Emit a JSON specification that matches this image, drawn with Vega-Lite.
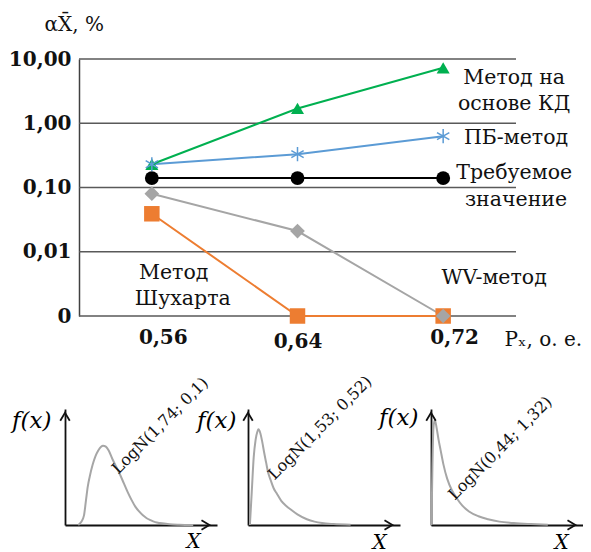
{
  "$schema": "https://vega.github.io/schema/vega-lite/v6.json",
  "padding": {"left": 8, "top": 14, "right": 0, "bottom": 0},
  "config": {"font": "DejaVu Serif", "view": {"stroke": null}, "text": {"font": "DejaVu Serif"}},
  "datasets": {
    "main": [
      {"p": 0.56, "v": 0.039, "s": "Метод Шухарта"},
      {"p": 0.64, "v": 0.001, "s": "Метод Шухарта"},
      {"p": 0.72, "v": 0.001, "s": "Метод Шухарта"},
      {"p": 0.56, "v": 0.08, "s": "WV-метод"},
      {"p": 0.64, "v": 0.021, "s": "WV-метод"},
      {"p": 0.72, "v": 0.001, "s": "WV-метод"},
      {"p": 0.56, "v": 0.14, "s": "Требуемое значение"},
      {"p": 0.64, "v": 0.14, "s": "Требуемое значение"},
      {"p": 0.72, "v": 0.14, "s": "Требуемое значение"},
      {"p": 0.56, "v": 0.23, "s": "ПБ-метод"},
      {"p": 0.64, "v": 0.33, "s": "ПБ-метод"},
      {"p": 0.72, "v": 0.63, "s": "ПБ-метод"},
      {"p": 0.56, "v": 0.23, "s": "Метод на основе КД"},
      {"p": 0.64, "v": 1.7, "s": "Метод на основе КД"},
      {"p": 0.72, "v": 7.3, "s": "Метод на основе КД"}
    ],
    "gridlines": [
      {"g": 0.001, "a": 0.52, "b": 0.76},
      {"g": 0.01, "a": 0.52, "b": 0.76},
      {"g": 0.1, "a": 0.52, "b": 0.76},
      {"g": 1, "a": 0.52, "b": 0.76},
      {"g": 10, "a": 0.52, "b": 0.76}
    ],
    "lab": [
      {"p": 0.759, "v": 5.06, "t": "Метод на"},
      {"p": 0.759, "v": 2.0, "t": "основе КД"},
      {"p": 0.760, "v": 0.59, "t": "ПБ-метод"},
      {"p": 0.759, "v": 0.168, "t": "Требуемое"},
      {"p": 0.760, "v": 0.0638, "t": "значение"},
      {"p": 0.748, "v": 0.0039, "t": "WV-метод"},
      {"p": 0.572, "v": 0.00468, "t": "Метод"},
      {"p": 0.577, "v": 0.00184, "t": "Шухарта"}
    ],
    "c1": [
      {"x": 14, "y": 0}, {"x": 17, "y": 3}, {"x": 20, "y": 10}, {"x": 22, "y": 25}, {"x": 24, "y": 40},
      {"x": 26, "y": 50}, {"x": 29, "y": 62}, {"x": 32, "y": 71}, {"x": 35, "y": 77}, {"x": 38, "y": 81},
      {"x": 40, "y": 82}, {"x": 43, "y": 81}, {"x": 46, "y": 77}, {"x": 50, "y": 68}, {"x": 54, "y": 60},
      {"x": 58, "y": 52}, {"x": 62, "y": 43}, {"x": 66, "y": 34}, {"x": 70, "y": 26}, {"x": 74, "y": 19},
      {"x": 78, "y": 14}, {"x": 82, "y": 10}, {"x": 86, "y": 7}, {"x": 90, "y": 5}, {"x": 95, "y": 3},
      {"x": 100, "y": 2}, {"x": 110, "y": 0.8}, {"x": 120, "y": 0.3}, {"x": 135, "y": 0}
    ],
    "c2": [
      {"x": 2, "y": 0}, {"x": 4, "y": 35}, {"x": 6, "y": 70}, {"x": 8, "y": 88}, {"x": 10, "y": 97},
      {"x": 11, "y": 99}, {"x": 13, "y": 95}, {"x": 15, "y": 86}, {"x": 17, "y": 75}, {"x": 19, "y": 65},
      {"x": 21, "y": 55}, {"x": 24, "y": 46}, {"x": 27, "y": 38}, {"x": 30, "y": 33}, {"x": 35, "y": 25},
      {"x": 40, "y": 20}, {"x": 45, "y": 16}, {"x": 52, "y": 11}, {"x": 62, "y": 6}, {"x": 70, "y": 3.5},
      {"x": 78, "y": 2}, {"x": 90, "y": 1}, {"x": 108, "y": 0.3}
    ],
    "c3": [
      {"x": 0.5, "y": 0}, {"x": 1.5, "y": 60}, {"x": 2.5, "y": 100}, {"x": 4, "y": 109}, {"x": 6, "y": 100},
      {"x": 8, "y": 88}, {"x": 10, "y": 78}, {"x": 13, "y": 63}, {"x": 17, "y": 48}, {"x": 22, "y": 36},
      {"x": 27, "y": 28}, {"x": 33, "y": 20}, {"x": 40, "y": 14}, {"x": 50, "y": 9}, {"x": 60, "y": 6},
      {"x": 72, "y": 3.5}, {"x": 87, "y": 2}, {"x": 105, "y": 1}, {"x": 123, "y": 0.3}
    ]
  },
  "concat": [
    {
      "width": 451,
      "height": 257,
      "layer": [
        {
          "data": {"name": "gridlines"},
          "mark": {"type": "rule", "color": "#595959", "strokeWidth": 1.5},
          "encoding": {
            "y": {"field": "g", "type": "quantitative",
              "scale": {"type": "log", "domain": [0.001, 10], "nice": false},
              "axis": {
                "values": [0.001, 0.01, 0.1, 1, 10],
                "offset": -14,
                "labelExpr": "datum.value < 0.005 ? '0   ' : replace(format(datum.value, '.2f'), '.', ',')",
                "grid": false,
                "domainColor": "#404040", "domainWidth": 1.5, "ticks": false,
                "labelFontWeight": "bold", "labelFontSize": 20, "labelPadding": 8, "labelColor": "#111",
                "title": "αX̄, %", "titleAngle": 0, "titleAlign": "left", "titleX": -35, "titleY": -29,
                "titleBaseline": "alphabetic", "titleFontWeight": "normal", "titleFontSize": 20, "titleColor": "#111"
              }
            },
            "x": {"field": "a", "type": "quantitative",
              "scale": {"domain": [0.51231, 0.76], "nice": false, "zero": false},
              "axis": {
                "values": [0.56, 0.64, 0.72],
                "labelExpr": "replace(format(datum.value, '.2f'), '.', ',')",
                "grid": false, "domain": false, "ticks": false,
                "labelOffset": {"condition": {"test": "datum.value == 0.64", "value": 0}, "value": 11},
                "labelPadding": {"condition": {"test": "datum.value == 0.64", "value": 15}, "value": 11},
                "labelFontWeight": "bold", "labelFontSize": 20, "labelColor": "#111",
                "title": "Pₓ, о. е.", "titleX": 439, "titleY": 29, "titleAlign": "left",
                "titleBaseline": "alphabetic", "titleFontWeight": "normal", "titleFontSize": 20, "titleColor": "#111"
              }
            },
            "x2": {"field": "b"}
          }
        },
        {
          "data": {"name": "main"},
          "mark": {"type": "line", "strokeWidth": 2},
          "encoding": {
            "x": {"field": "p", "type": "quantitative"},
            "y": {"field": "v", "type": "quantitative"},
            "color": {
              "field": "s", "type": "nominal", "legend": null,
              "scale": {
                "domain": ["Метод Шухарта", "WV-метод", "Требуемое значение", "ПБ-метод", "Метод на основе КД"],
                "range": ["#ed7d31", "#a5a5a5", "#000000", "#5b9bd5", "#00b050"]
              }
            }
          }
        },
        {
          "data": {"name": "main"},
          "transform": [{"filter": "datum.s != 'ПБ-метод'"}],
          "mark": {"type": "point", "filled": true, "opacity": 1},
          "encoding": {
            "x": {"field": "p", "type": "quantitative"},
            "y": {"field": "v", "type": "quantitative"},
            "color": {
              "field": "s", "type": "nominal", "legend": null,
              "scale": {
                "domain": ["Метод Шухарта", "WV-метод", "Требуемое значение", "ПБ-метод", "Метод на основе КД"],
                "range": ["#ed7d31", "#a5a5a5", "#000000", "#5b9bd5", "#00b050"]
              }
            },
            "shape": {
              "field": "s", "type": "nominal", "legend": null,
              "scale": {
                "domain": ["Метод Шухарта", "WV-метод", "Требуемое значение", "Метод на основе КД"],
                "range": ["square", "diamond", "circle", "triangle-up"]
              }
            },
            "size": {
              "field": "s", "type": "nominal", "legend": null,
              "scale": {
                "domain": ["Метод Шухарта", "WV-метод", "Требуемое значение", "Метод на основе КД"],
                "range": [240, 170, 225, 260]
              }
            }
          }
        },
        {
          "data": {"name": "main"},
          "transform": [{"filter": "datum.s == 'ПБ-метод'"}],
          "mark": {
            "type": "point", "filled": false, "opacity": 1, "color": "#5b9bd5", "strokeWidth": 1.5,
            "shape": "M0,-1L0,1M-0.87,-0.5L0.87,0.5M-0.87,0.5L0.87,-0.5", "size": 200
          },
          "encoding": {
            "x": {"field": "p", "type": "quantitative"},
            "y": {"field": "v", "type": "quantitative"}
          }
        },
        {
          "data": {"name": "lab"},
          "mark": {"type": "text", "font": "DejaVu Serif", "fontSize": 20.5, "align": "center", "baseline": "middle", "color": "#111"},
          "encoding": {
            "x": {"field": "p", "type": "quantitative"},
            "y": {"field": "v", "type": "quantitative"},
            "text": {"field": "t"}
          }
        }
      ]
    },
    {
      "hconcat": [
        {
          "width": 152, "height": 116,
          "layer": [
            {
              "data": {"name": "c1"},
              "mark": {"type": "line", "color": "#a6a6a6", "strokeWidth": 2, "interpolate": "monotone"},
              "encoding": {
                "x": {"field": "x", "type": "quantitative", "scale": {"domain": [0, 152]},
                  "axis": {"domainColor": "#111", "domainWidth": 1.8, "ticks": false, "labels": false, "grid": false,
                    "title": "X", "titleX": 128, "titleY": 22, "titleAlign": "center", "titleBaseline": "alphabetic",
                    "titleFontStyle": "italic", "titleFontWeight": "normal", "titleFontSize": 20}},
                "y": {"field": "y", "type": "quantitative", "scale": {"domain": [0, 116]},
                  "axis": {"domainColor": "#111", "domainWidth": 1.8, "ticks": false, "labels": false, "grid": false,
                    "title": "f(x)", "titleAngle": 0, "titleX": -14, "titleY": 18, "titleAlign": "right", "titleBaseline": "alphabetic",
                    "titleFontStyle": "italic", "titleFontWeight": "normal", "titleFontSize": 23}}
              }
            },
            {
              "data": {"values": [{"x": 0, "y": 116}]},
              "mark": {"type": "point", "filled": false, "color": "#111", "strokeWidth": 1.8, "size": 250, "opacity": 1, "shape": "M-0.6,1L0,0L0.6,1"},
              "encoding": {"x": {"field": "x", "type": "quantitative"}, "y": {"field": "y", "type": "quantitative"}}
            },
            {
              "data": {"values": [{"x": 152, "y": 0}]},
              "mark": {"type": "point", "filled": false, "color": "#111", "strokeWidth": 1.8, "size": 250, "opacity": 1, "shape": "M-1,-0.6L0,0L-1,0.6"},
              "encoding": {"x": {"field": "x", "type": "quantitative"}, "y": {"field": "y", "type": "quantitative"}}
            },
            {
              "data": {"values": [{"x": 56, "y": 52, "t": "LogN(1,74; 0,1)"}]},
              "mark": {"type": "text", "font": "DejaVu Serif", "angle": -45, "align": "left", "baseline": "alphabetic", "fontSize": 16, "color": "#111"},
              "encoding": {
                "x": {"field": "x", "type": "quantitative"},
                "y": {"field": "y", "type": "quantitative"},
                "text": {"field": "t"}
              }
            }
          ]
        },
        {
          "width": 152, "height": 116,
          "layer": [
            {
              "data": {"name": "c2"},
              "mark": {"type": "line", "color": "#a6a6a6", "strokeWidth": 2, "interpolate": "monotone"},
              "encoding": {
                "x": {"field": "x", "type": "quantitative", "scale": {"domain": [0, 152]},
                  "axis": {"domainColor": "#111", "domainWidth": 1.8, "ticks": false, "labels": false, "grid": false,
                    "title": "X", "titleX": 131, "titleY": 23, "titleAlign": "center", "titleBaseline": "alphabetic",
                    "titleFontStyle": "italic", "titleFontWeight": "normal", "titleFontSize": 20}},
                "y": {"field": "y", "type": "quantitative", "scale": {"domain": [0, 116]},
                  "axis": {"domainColor": "#111", "domainWidth": 1.8, "ticks": false, "labels": false, "grid": false,
                    "title": "f(x)", "titleAngle": 0, "titleX": -12, "titleY": 18, "titleAlign": "right", "titleBaseline": "alphabetic",
                    "titleFontStyle": "italic", "titleFontWeight": "normal", "titleFontSize": 23}}
              }
            },
            {
              "data": {"values": [{"x": 0, "y": 116}]},
              "mark": {"type": "point", "filled": false, "color": "#111", "strokeWidth": 1.8, "size": 250, "opacity": 1, "shape": "M-0.6,1L0,0L0.6,1"},
              "encoding": {"x": {"field": "x", "type": "quantitative"}, "y": {"field": "y", "type": "quantitative"}}
            },
            {
              "data": {"values": [{"x": 152, "y": 0}]},
              "mark": {"type": "point", "filled": false, "color": "#111", "strokeWidth": 1.8, "size": 250, "opacity": 1, "shape": "M-1,-0.6L0,0L-1,0.6"},
              "encoding": {"x": {"field": "x", "type": "quantitative"}, "y": {"field": "y", "type": "quantitative"}}
            },
            {
              "data": {"values": [{"x": 28, "y": 46, "t": "LogN(1,53; 0,52)"}]},
              "mark": {"type": "text", "font": "DejaVu Serif", "angle": -45, "align": "left", "baseline": "alphabetic", "fontSize": 16, "color": "#111"},
              "encoding": {
                "x": {"field": "x", "type": "quantitative"},
                "y": {"field": "y", "type": "quantitative"},
                "text": {"field": "t"}
              }
            }
          ]
        },
        {
          "width": 152, "height": 116,
          "layer": [
            {
              "data": {"name": "c3"},
              "mark": {"type": "line", "color": "#a6a6a6", "strokeWidth": 2, "interpolate": "monotone"},
              "encoding": {
                "x": {"field": "x", "type": "quantitative", "scale": {"domain": [0, 152]},
                  "axis": {"domainColor": "#111", "domainWidth": 1.8, "ticks": false, "labels": false, "grid": false,
                    "title": "X", "titleX": 130, "titleY": 23, "titleAlign": "center", "titleBaseline": "alphabetic",
                    "titleFontStyle": "italic", "titleFontWeight": "normal", "titleFontSize": 20}},
                "y": {"field": "y", "type": "quantitative", "scale": {"domain": [0, 116]},
                  "axis": {"domainColor": "#111", "domainWidth": 1.8, "ticks": false, "labels": false, "grid": false,
                    "title": "f(x)", "titleAngle": 0, "titleX": -13, "titleY": 15, "titleAlign": "right", "titleBaseline": "alphabetic",
                    "titleFontStyle": "italic", "titleFontWeight": "normal", "titleFontSize": 23}}
              }
            },
            {
              "data": {"values": [{"x": 0, "y": 116}]},
              "mark": {"type": "point", "filled": false, "color": "#111", "strokeWidth": 1.8, "size": 250, "opacity": 1, "shape": "M-0.6,1L0,0L0.6,1"},
              "encoding": {"x": {"field": "x", "type": "quantitative"}, "y": {"field": "y", "type": "quantitative"}}
            },
            {
              "data": {"values": [{"x": 152, "y": 0}]},
              "mark": {"type": "point", "filled": false, "color": "#111", "strokeWidth": 1.8, "size": 250, "opacity": 1, "shape": "M-1,-0.6L0,0L-1,0.6"},
              "encoding": {"x": {"field": "x", "type": "quantitative"}, "y": {"field": "y", "type": "quantitative"}}
            },
            {
              "data": {"values": [{"x": 25, "y": 25, "t": "LogN(0,44; 1,32)"}]},
              "mark": {"type": "text", "font": "DejaVu Serif", "angle": -45, "align": "left", "baseline": "alphabetic", "fontSize": 16, "color": "#111"},
              "encoding": {
                "x": {"field": "x", "type": "quantitative"},
                "y": {"field": "y", "type": "quantitative"},
                "text": {"field": "t"}
              }
            }
          ]
        }
      ],
      "spacing": 31,
      "bounds": "flush"
    }
  ],
  "columns": 1,
  "spacing": 22
}
